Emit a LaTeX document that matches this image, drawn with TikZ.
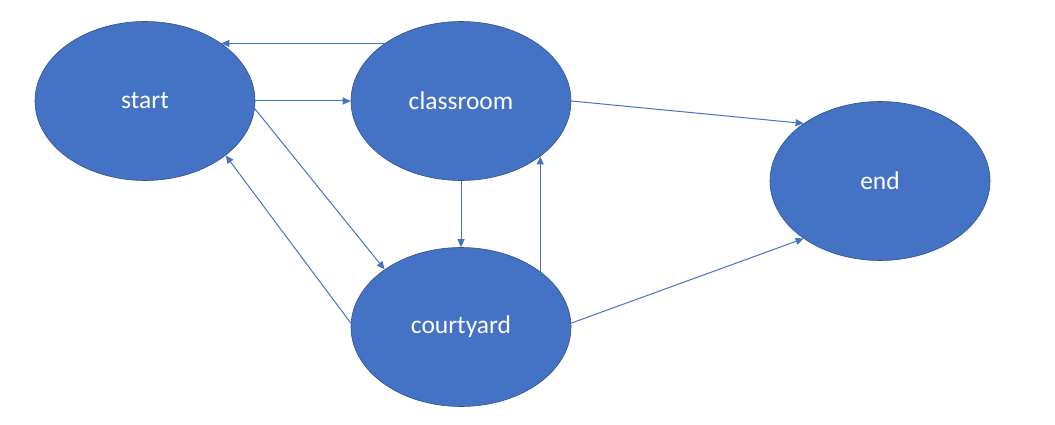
\documentclass[tikz,border=0pt]{standalone}
\usepackage{fontspec}
\setmainfont{Carlito}
\usepackage{xcolor}
\usetikzlibrary{shapes.geometric, arrows.meta, positioning}

\definecolor{roomblue}{HTML}{4472C4}
\definecolor{roomedge}{HTML}{2F528F}

\begin{document}
\begin{tikzpicture}[x=1pt, y=-1pt,
    room/.style={ellipse, fill=roomblue, draw=roomedge, line width=0.6pt,
        minimum width=220pt, minimum height=159pt, inner sep=0pt,
        text=white, font=\fontsize{25.5}{30}\selectfont},
    link/.style={draw=roomblue, line width=1pt,
        -{Triangle[length=8pt, width=7pt]}}]
    \useasboundingbox (0,0) rectangle (1055,425);

    % States
    \node[room] (start) at (145,101) {start};
    \node[room] (classroom) at (461,101) {classroom};
    \node[room] (end) at (880,181) {end};
    \node[room] (courtyard) at (461,327) {courtyard};

    % Top row
    \draw[link] (classroom.143) -- (start.37);
    \draw[link] (start.east) -- (classroom.west);
    \draw[link] (classroom.east) -- (end.143);

    % Between classroom and courtyard
    \draw[link] (classroom.south) -- (courtyard.north);
    \draw[link] (courtyard.35) -- (classroom.-35);

    % Diagonals
    \draw[link] (start.-4) -- (courtyard.143);
    \draw[link] (courtyard.178) -- (start.-34);
    \draw[link] (courtyard.2) -- (end.217);

\end{tikzpicture}
\end{document}
